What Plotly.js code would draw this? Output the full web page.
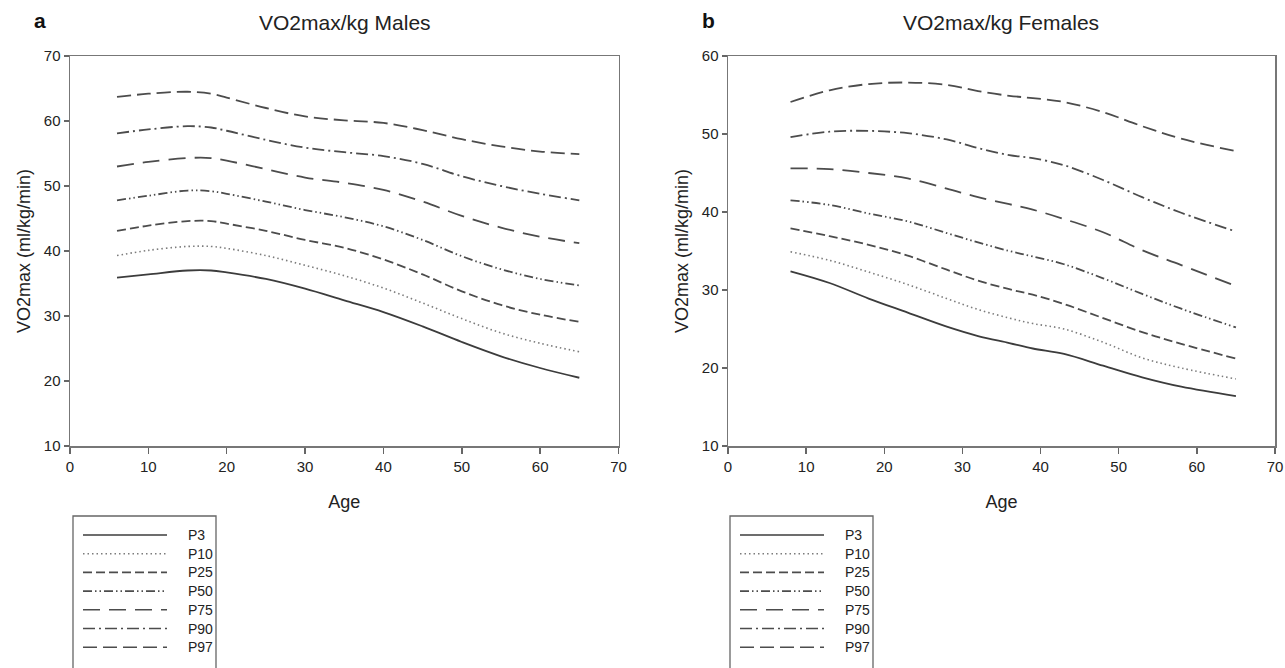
<!DOCTYPE html>
<html>
<head>
<meta charset="utf-8">
<script src="https://cdn.plot.ly/plotly-3.0.1.min.js"></script>
<style>html,body{margin:0;padding:0;background:#fff;}#chart{width:1285px;height:668px;}</style>
</head>
<body>
<div id="chart"></div>
<script>
// ---- data ----
var seriesNames = ["P3", "P10", "P25", "P50", "P75", "P90", "P97"];

var maleAges = [6, 10, 15, 18, 20, 25, 30, 35, 40, 45, 50, 55, 60, 65];
var maleP3  = [35.9, 36.4, 37.0, 37.0, 36.7, 35.7, 34.2, 32.4, 30.6, 28.4, 26.0, 23.8, 22.0, 20.5];
var maleP10 = [39.3, 40.1, 40.7, 40.7, 40.4, 39.3, 37.8, 36.2, 34.3, 32.0, 29.6, 27.4, 25.8, 24.5];
var maleP25 = [43.1, 43.9, 44.6, 44.6, 44.2, 43.1, 41.7, 40.5, 38.7, 36.4, 33.8, 31.7, 30.2, 29.1];
var maleP50 = [47.8, 48.5, 49.3, 49.2, 48.8, 47.6, 46.3, 45.2, 43.8, 41.7, 39.2, 37.2, 35.7, 34.7];
var maleP75 = [53.0, 53.7, 54.3, 54.3, 53.9, 52.6, 51.3, 50.5, 49.4, 47.6, 45.4, 43.6, 42.2, 41.2];
var maleP90 = [58.1, 58.7, 59.2, 59.0, 58.5, 57.1, 55.9, 55.2, 54.6, 53.4, 51.5, 50.0, 48.8, 47.8];
var maleP97 = [63.7, 64.2, 64.5, 64.2, 63.6, 62.0, 60.7, 60.1, 59.7, 58.6, 57.2, 56.1, 55.3, 54.9];

var femaleAges = [8, 13, 18, 23, 28, 32, 36, 39, 43, 48, 53, 58, 65];
var femaleP3  = [32.4, 30.9, 28.9, 27.1, 25.3, 24.1, 23.2, 22.5, 21.8, 20.3, 18.8, 17.6, 16.4];
var femaleP10 = [34.9, 33.8, 32.3, 30.7, 28.9, 27.5, 26.4, 25.7, 25.0, 23.3, 21.3, 20.0, 18.6];
var femaleP25 = [37.9, 36.9, 35.8, 34.4, 32.6, 31.2, 30.1, 29.4, 28.2, 26.4, 24.6, 23.1, 21.2];
var femaleP50 = [41.5, 40.9, 39.8, 38.8, 37.3, 36.1, 35.0, 34.3, 33.3, 31.5, 29.5, 27.6, 25.2];
var femaleP75 = [45.6, 45.5, 45.0, 44.3, 43.0, 41.9, 41.0, 40.3, 39.1, 37.4, 35.1, 33.2, 30.5];
var femaleP90 = [49.6, 50.3, 50.4, 50.1, 49.3, 48.2, 47.3, 46.9, 46.0, 44.1, 41.9, 39.9, 37.5];
var femaleP97 = [54.1, 55.6, 56.4, 56.6, 56.3, 55.5, 54.9, 54.6, 54.1, 52.8, 51.0, 49.4, 47.8];

var xTicks = [0, 10, 20, 30, 40, 50, 60, 70];
var maleYTicks = [10, 20, 30, 40, 50, 60, 70];
var femaleYTicks = [10, 20, 30, 40, 50, 60];

var maleSeries = [maleP3, maleP10, maleP25, maleP50, maleP75, maleP90, maleP97];
var femaleSeries = [femaleP3, femaleP10, femaleP25, femaleP50, femaleP75, femaleP90, femaleP97];

// ---- styles ----
var styles = [
  {dash: "solid", color: "#3c3c3c", width: 1.8},
  {dash: "1.5px,3px", color: "#7c7c7c", width: 1.6},
  {dash: "9px,4px", color: "#4c4c4c", width: 1.8},
  {dash: "9px,3px,1.5px,3px,1.5px,3px", color: "#4c4c4c", width: 1.8},
  {dash: "17px,9px", color: "#4c4c4c", width: 1.8},
  {dash: "12px,4px,2px,4px", color: "#4c4c4c", width: 1.8},
  {dash: "14px,6px", color: "#4c4c4c", width: 1.8}
];

var FONT = "Arial, 'Liberation Sans', sans-serif";
var traces = [];
seriesNames.forEach(function (name, i) {
  traces.push({x: maleAges, y: maleSeries[i], name: name, mode: "lines", xaxis: "x", yaxis: "y",
    line: {shape: "spline", smoothing: 1, dash: styles[i].dash, color: styles[i].color, width: styles[i].width},
    showlegend: false, hoverinfo: "x+y+name"});
  traces.push({x: femaleAges, y: femaleSeries[i], name: name, mode: "lines", xaxis: "x2", yaxis: "y2",
    line: {shape: "spline", smoothing: 1, dash: styles[i].dash, color: styles[i].color, width: styles[i].width},
    showlegend: false, hoverinfo: "x+y+name"});
});

var W = 1285, H = 668;
function px(x) { return x / W; }
function py(y) { return 1 - y / H; }

function axisX(domain) {
  return {domain: domain, range: [0, 70], tickvals: xTicks, ticks: "outside", ticklen: 6, tickwidth: 1.5,
    tickcolor: "#666", showline: true, linecolor: "#777", linewidth: 1.5, mirror: true, showgrid: false,
    zeroline: false, tickfont: {family: FONT, size: 15, color: "#222"},
    title: {text: "Age", font: {family: FONT, size: 18, color: "#222"}, standoff: 22}};
}
function axisY(range, ticks, anchor) {
  return {domain: [py(446), py(56)], range: range, tickvals: ticks, ticks: "outside", ticklen: 5, tickwidth: 1.5,
    tickcolor: "#666", showline: true, linecolor: "#777", linewidth: 1.5, mirror: true, showgrid: false,
    zeroline: false, anchor: anchor, tickfont: {family: FONT, size: 15, color: "#222"},
    title: {text: "VO2max (ml/kg/min)", font: {family: FONT, size: 18, color: "#222"}, standoff: 8}};
}

var shapes = [];
var annotations = [];

function label(text, x, y, size, color) {
  return {text: text, x: px(x), y: py(y), xref: "paper", yref: "paper", showarrow: false,
    xanchor: "center", yanchor: "middle", font: {family: FONT, size: size, color: color}};
}
// subplot titles and panel letters
annotations.push(label("<b>a</b>", 40, 20, 21, "#111"));
annotations.push(label("<b>b</b>", 708, 20, 21, "#111"));
annotations.push(label("VO2max/kg Males", 345, 23, 21, "#222"));
annotations.push(label("VO2max/kg Females", 1001, 23, 21, "#222"));

// custom legends (one per panel)
[73, 730].forEach(function (left) {
  shapes.push({type: "rect", xref: "paper", yref: "paper", x0: px(left), x1: px(left + 143), y0: py(690), y1: py(516),
    line: {color: "#666", width: 1.3}, fillcolor: "rgba(0,0,0,0)"});
  seriesNames.forEach(function (name, i) {
    var yy = 535 + i * 18.7;
    shapes.push({type: "line", xref: "paper", yref: "paper", x0: px(left + 10), x1: px(left + 94), y0: py(yy), y1: py(yy),
      line: {color: styles[i].color, width: styles[i].width - 0.2, dash: styles[i].dash}});
    annotations.push({text: name, x: px(left + 113), y: py(yy), xref: "paper", yref: "paper", showarrow: false,
      xanchor: "left", yanchor: "middle", font: {family: FONT, size: 14, color: "#222"}});
  });
});

var layout = {
  width: W, height: H,
  margin: {l: 0, r: 0, t: 0, b: 0},
  paper_bgcolor: "#fff", plot_bgcolor: "#fff",
  showlegend: false,
  xaxis: axisX([px(70), px(618.5)]),
  yaxis: axisY([10, 70], maleYTicks, "x"),
  xaxis2: axisX([px(728), px(1275)]),
  yaxis2: axisY([10, 60], femaleYTicks, "x2"),
  shapes: shapes,
  annotations: annotations
};
layout.xaxis.anchor = "y";
layout.xaxis2.anchor = "y2";

Plotly.newPlot("chart", traces, layout, {displayModeBar: false, staticPlot: true});
</script>
</body>
</html>
